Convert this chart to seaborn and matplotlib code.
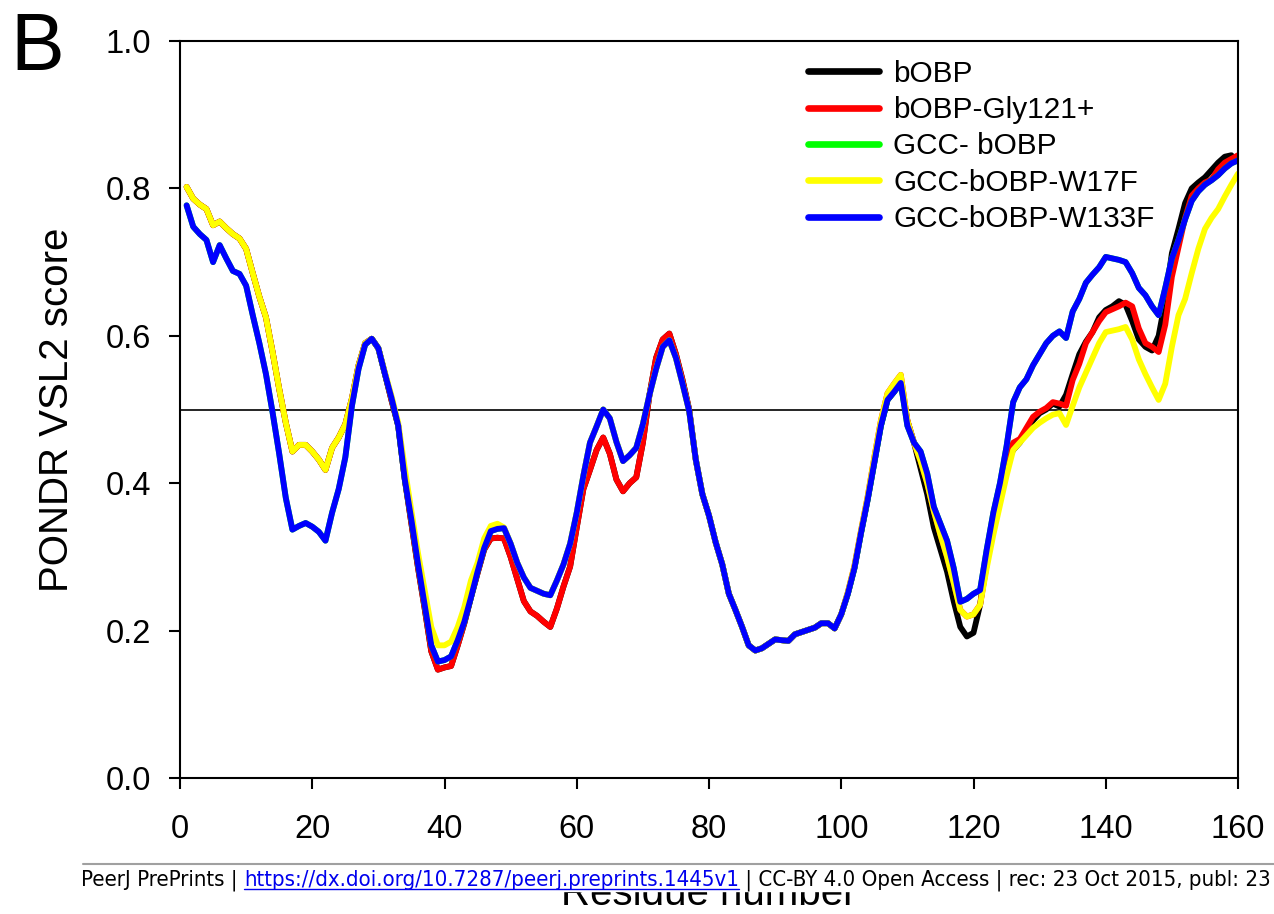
import numpy as np
import matplotlib
matplotlib.use('Agg')
import matplotlib.pyplot as plt
from matplotlib.lines import Line2D
from matplotlib.patches import Rectangle
import seaborn as sns

# PONDR VSL2 scores, one value per residue
residue = np.arange(1, 161)

bobp = [
    0.802, 0.786, 0.778, 0.772, 0.750, 0.755, 0.746, 0.738, 0.732, 0.718,
    0.685, 0.653, 0.625, 0.578, 0.528, 0.482, 0.443, 0.452, 0.452, 0.443,
    0.432, 0.418, 0.448, 0.462, 0.480, 0.515, 0.560, 0.590, 0.596, 0.583,
    0.548, 0.512, 0.478, 0.405, 0.345, 0.285, 0.230, 0.172, 0.147, 0.150,
    0.152, 0.180, 0.210, 0.245, 0.278, 0.310, 0.325, 0.326, 0.325, 0.300,
    0.270, 0.240, 0.226, 0.220, 0.212, 0.205, 0.230, 0.260, 0.287, 0.340,
    0.392, 0.418, 0.445, 0.462, 0.440, 0.405, 0.389, 0.400, 0.408, 0.455,
    0.520, 0.570, 0.595, 0.603, 0.575, 0.540, 0.500, 0.432, 0.385, 0.356,
    0.320, 0.290, 0.250, 0.228, 0.205, 0.180, 0.173, 0.176, 0.182, 0.188,
    0.187, 0.186, 0.195, 0.198, 0.201, 0.204, 0.210, 0.210, 0.203, 0.222,
    0.250, 0.285, 0.333, 0.378, 0.428, 0.478, 0.513, 0.524, 0.536, 0.485,
    0.455, 0.420, 0.385, 0.340, 0.310, 0.280, 0.240, 0.205, 0.192, 0.197,
    0.235, 0.300, 0.345, 0.390, 0.430, 0.445, 0.455, 0.470, 0.485, 0.495,
    0.500, 0.508, 0.504, 0.520, 0.548, 0.575, 0.592, 0.605, 0.625, 0.635,
    0.640, 0.647, 0.642, 0.620, 0.595, 0.585, 0.580, 0.600, 0.648, 0.712,
    0.745, 0.780, 0.800, 0.808, 0.815, 0.825, 0.835, 0.843, 0.845,
]

bobp_gly121 = [
    0.802, 0.786, 0.778, 0.772, 0.750, 0.755, 0.746, 0.738, 0.732, 0.718,
    0.685, 0.653, 0.625, 0.578, 0.528, 0.482, 0.443, 0.452, 0.452, 0.443,
    0.432, 0.418, 0.448, 0.462, 0.480, 0.515, 0.560, 0.590, 0.596, 0.583,
    0.548, 0.512, 0.478, 0.405, 0.345, 0.285, 0.230, 0.172, 0.147, 0.150,
    0.152, 0.180, 0.210, 0.245, 0.278, 0.310, 0.325, 0.326, 0.325, 0.300,
    0.270, 0.240, 0.226, 0.220, 0.212, 0.205, 0.230, 0.260, 0.287, 0.340,
    0.392, 0.418, 0.445, 0.462, 0.440, 0.405, 0.389, 0.400, 0.408, 0.455,
    0.520, 0.570, 0.595, 0.603, 0.575, 0.540, 0.500, 0.432, 0.385, 0.356,
    0.320, 0.290, 0.250, 0.228, 0.205, 0.180, 0.173, 0.176, 0.182, 0.188,
    0.187, 0.186, 0.195, 0.198, 0.201, 0.204, 0.210, 0.210, 0.203, 0.222,
    0.252, 0.288, 0.336, 0.382, 0.435, 0.485, 0.522, 0.535, 0.547, 0.485,
    0.455, 0.430, 0.400, 0.362, 0.330, 0.300, 0.265, 0.228, 0.219, 0.222,
    0.235, 0.290, 0.340, 0.390, 0.430, 0.455, 0.460, 0.475, 0.490, 0.497,
    0.502, 0.510, 0.508, 0.505, 0.540, 0.562, 0.590, 0.605, 0.620, 0.632,
    0.636, 0.640, 0.645, 0.640, 0.610, 0.590, 0.585, 0.578, 0.615, 0.680,
    0.720, 0.760, 0.790, 0.800, 0.808, 0.812, 0.826, 0.835, 0.840, 0.845,
]

w17f = [
    0.802, 0.786, 0.778, 0.772, 0.750, 0.755, 0.746, 0.738, 0.732, 0.718,
    0.685, 0.653, 0.625, 0.578, 0.528, 0.482, 0.443, 0.452, 0.452, 0.443,
    0.432, 0.418, 0.448, 0.462, 0.480, 0.515, 0.560, 0.590, 0.596, 0.583,
    0.550, 0.518, 0.482, 0.420, 0.362, 0.305, 0.255, 0.205, 0.180, 0.180,
    0.185, 0.205, 0.232, 0.268, 0.292, 0.325, 0.342, 0.345, 0.340, 0.318,
    0.292, 0.272, 0.258, 0.254, 0.250, 0.248, 0.268, 0.290, 0.318, 0.360,
    0.410, 0.455, 0.477, 0.500, 0.488, 0.456, 0.430, 0.438, 0.448, 0.480,
    0.520, 0.555, 0.585, 0.594, 0.570, 0.535, 0.498, 0.432, 0.385, 0.356,
    0.320, 0.290, 0.250, 0.228, 0.205, 0.180, 0.173, 0.176, 0.182, 0.188,
    0.187, 0.186, 0.195, 0.198, 0.201, 0.204, 0.210, 0.210, 0.203, 0.222,
    0.252, 0.288, 0.336, 0.382, 0.435, 0.485, 0.522, 0.535, 0.547, 0.485,
    0.455, 0.430, 0.400, 0.362, 0.330, 0.300, 0.265, 0.228, 0.219, 0.222,
    0.235, 0.285, 0.330, 0.370, 0.410, 0.445, 0.455, 0.465, 0.475, 0.482,
    0.488, 0.493, 0.495, 0.479, 0.505, 0.530, 0.550, 0.570, 0.590, 0.605,
    0.607, 0.609, 0.612, 0.595, 0.568, 0.548, 0.530, 0.513, 0.535, 0.585,
    0.628, 0.650, 0.685, 0.718, 0.745, 0.760, 0.772, 0.789, 0.805, 0.820,
]

w133f = [
    0.777, 0.748, 0.738, 0.730, 0.700, 0.723, 0.705, 0.688, 0.684, 0.668,
    0.628, 0.590, 0.548, 0.496, 0.440, 0.380, 0.337, 0.342, 0.346, 0.341,
    0.334, 0.322, 0.360, 0.392, 0.435, 0.505, 0.555, 0.588, 0.596, 0.583,
    0.548, 0.515, 0.478, 0.405, 0.350, 0.290, 0.235, 0.180, 0.158, 0.160,
    0.165, 0.187, 0.212, 0.245, 0.280, 0.312, 0.335, 0.338, 0.339, 0.318,
    0.292, 0.272, 0.258, 0.254, 0.250, 0.248, 0.268, 0.290, 0.318, 0.360,
    0.410, 0.455, 0.477, 0.500, 0.488, 0.456, 0.430, 0.438, 0.448, 0.480,
    0.520, 0.555, 0.585, 0.594, 0.570, 0.535, 0.498, 0.432, 0.385, 0.356,
    0.320, 0.290, 0.250, 0.228, 0.205, 0.180, 0.173, 0.176, 0.182, 0.188,
    0.187, 0.186, 0.195, 0.198, 0.201, 0.204, 0.210, 0.210, 0.203, 0.222,
    0.250, 0.285, 0.333, 0.378, 0.428, 0.478, 0.513, 0.524, 0.536, 0.478,
    0.455, 0.443, 0.413, 0.368, 0.345, 0.322, 0.285, 0.239, 0.243, 0.250,
    0.255, 0.310, 0.360, 0.400, 0.450, 0.510, 0.530, 0.541, 0.560, 0.575,
    0.590, 0.600, 0.606, 0.597, 0.633, 0.650, 0.672, 0.683, 0.693, 0.707,
    0.705, 0.703, 0.700, 0.685, 0.665, 0.655, 0.640, 0.628, 0.665, 0.705,
    0.730, 0.758, 0.783, 0.796, 0.805, 0.811, 0.818, 0.827, 0.834, 0.838,
]

# GCC-bOBP is not visible in the reference: it lies under the W133F trace
gcc_bobp = list(w133f)

names = ['bOBP', 'bOBP-Gly121+', 'GCC- bOBP', 'GCC-bOBP-W17F', 'GCC-bOBP-W133F']
colors = ['#000000', '#ff0000', '#00ff00', '#ffff00', '#0000ff']
series = [bobp, bobp_gly121, gcc_bobp, w17f, w133f]

sns.set_theme(style='ticks')
plt.rcParams['font.family'] = ['Liberation Sans', 'DejaVu Sans']
plt.rcParams['text.color'] = 'black'
plt.rcParams['axes.labelcolor'] = 'black'

W, H = 1274, 914
fig = plt.figure(figsize=(W / 100, H / 100), dpi=100)
ax = fig.add_axes([180 / W, 1 - 778 / H, (1238 - 180) / W, (778 - 41) / H])

for name, vals, col in zip(names, series, colors):
    sns.lineplot(x=residue[:len(vals)], y=vals, color=col, lw=4.2,
                 label=name, ax=ax, legend=False)

ax.axhline(0.5, color='black', lw=1.2, zorder=1.5)

ax.set_xlim(0, 160)
ax.set_ylim(0, 1.0)
ax.set_xticks(range(0, 161, 20))
ax.set_yticks(np.arange(0, 1.01, 0.2))
ax.set_yticklabels([f'{v:.1f}' for v in np.arange(0, 1.01, 0.2)])
ax.tick_params(direction='out', length=8, width=1.5, labelsize=23.5,
               colors='black', top=False, right=False)
ax.tick_params(axis='y', pad=13)
ax.tick_params(axis='x', pad=18)
for sp in ax.spines.values():
    sp.set_visible(True)
    sp.set_color('black')
    sp.set_linewidth(1.5)

ax.set_ylabel('PONDR VSL2 score', fontsize=29)
ax.yaxis.set_label_coords(-0.098, 0.5)
ax.set_xlabel('Residue number', fontsize=29)
ax.xaxis.set_label_coords(0.5, -0.1316)

ax.legend(loc='upper left', bbox_to_anchor=(0.594, 0.9745), frameon=False,
          fontsize=21.4, handlelength=2.36, handletextpad=0.5,
          labelspacing=0.28, borderpad=0, borderaxespad=0)
for ln in ax.get_legend().get_lines():
    ln.set_linewidth(4.8)

fig.text(0.008, 0.988, 'B', fontsize=58, va='top', ha='left', color='black')

# footer band of the preprint page, drawn over the x label like in the source
fig.patches.append(Rectangle((0, 1 - 891 / H), 1, (891 - 866) / H,
                             transform=fig.transFigure, color='white',
                             zorder=1))
fig.lines.append(Line2D([83 / W, 1.0], [1 - 864 / H, 1 - 864 / H],
                        transform=fig.transFigure, color='#a0a0a0', lw=1.5))

renderer = fig.canvas.get_renderer()
ty = 1 - 880 / H
foot_kw = dict(fontsize=15.95, va='center', ha='left', family='DejaVu Sans',
               fontstretch='condensed', zorder=5)
pieces = [('PeerJ PrePrints | ', 'black'),
          ('https://dx.doi.org/10.7287/peerj.preprints.1445v1', '#0000ee'),
          (' | CC-BY 4.0 Open Access | rec: 23 Oct 2015, publ: 23', 'black')]
x = 81 / W
for txt, col in pieces:
    t = fig.text(x, ty, txt, color=col, **foot_kw)
    bb = t.get_window_extent(renderer)
    if col != 'black':
        uy = (bb.y0 + 1) / H
        fig.lines.append(Line2D([bb.x0 / W, bb.x1 / W], [uy, uy],
                                transform=fig.transFigure, color=col, lw=1))
    x = bb.x1 / W

fig.savefig('out.png', dpi=100)
